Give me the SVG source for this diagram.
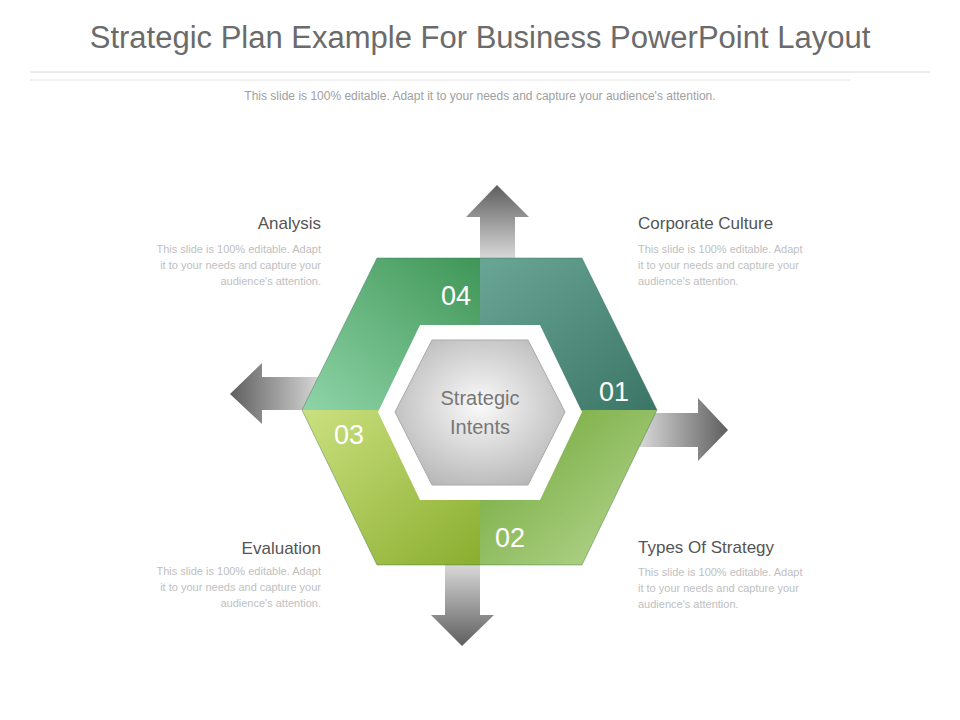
<svg xmlns="http://www.w3.org/2000/svg" width="960" height="720" viewBox="0 0 960 720">
<style>
text{font-family:"Liberation Sans",Arial,sans-serif}
.title{font-size:31px;fill:#6b6b6b}
.sub{font-size:12px;fill:#a0a0a0}
.h{font-size:17px;fill:#555}
.b{font-size:11px;fill:#c0c0c0}
.num{font-size:27px;fill:#fff}
.c{font-size:20px;fill:#777}
</style>
<defs>
<linearGradient id="gv" x1="0" y1="0" x2="0" y2="1"><stop offset="0" stop-color="#5e5e5e"/><stop offset="1" stop-color="#d8d8d8"/></linearGradient>
<linearGradient id="gvd" x1="0" y1="1" x2="0" y2="0"><stop offset="0" stop-color="#5e5e5e"/><stop offset="1" stop-color="#d8d8d8"/></linearGradient>
<linearGradient id="gh" x1="0" y1="0" x2="1" y2="0"><stop offset="0" stop-color="#5e5e5e"/><stop offset="1" stop-color="#d8d8d8"/></linearGradient>
<linearGradient id="ghr" x1="1" y1="0" x2="0" y2="0"><stop offset="0" stop-color="#5e5e5e"/><stop offset="1" stop-color="#d8d8d8"/></linearGradient>
<linearGradient id="q4" x1="1" y1="0" x2="0" y2="1"><stop offset="0" stop-color="#3f9657"/><stop offset="1" stop-color="#8fd4a8"/></linearGradient>
<linearGradient id="q1" x1="0" y1="0" x2="1" y2="1"><stop offset="0" stop-color="#6aa696"/><stop offset="1" stop-color="#3a7566"/></linearGradient>
<linearGradient id="q3" x1="0" y1="0" x2="1" y2="1"><stop offset="0" stop-color="#cbe080"/><stop offset="1" stop-color="#8aae2e"/></linearGradient>
<linearGradient id="q2" x1="0" y1="0" x2="1" y2="1"><stop offset="0" stop-color="#6ea534"/><stop offset="1" stop-color="#b9d995"/></linearGradient>
<radialGradient id="gc" cx="0.5" cy="0.45" r="0.6"><stop offset="0" stop-color="#fafafa"/><stop offset="1" stop-color="#b8b8b8"/></radialGradient>
</defs>
<text class="title" x="480" y="48" text-anchor="middle">Strategic Plan Example For Business PowerPoint Layout</text>
<line x1="30" y1="72" x2="930" y2="72" stroke="#d8d8d8"/>
<line x1="30" y1="80" x2="850" y2="80" stroke="#e4e4e4"/>
<text class="sub" x="480" y="100" text-anchor="middle">This slide is 100% editable. Adapt it to your needs and capture your audience's attention.</text>
<g id="connectors">
<path d="M480 258V217H466L497 185L529 217H515V258Z" fill="url(#gv)"/>
<path d="M320 377H262V363L230 394L262 424V410H320Z" fill="url(#gh)"/>
<path d="M640 413H698V398L728 430L698 461V447H640Z" fill="url(#ghr)"/>
<path d="M445 565V615H431L462 646L494 615H480V565Z" fill="url(#gvd)"/>
</g>
<g id="hexring">
<path d="M377 258H480V410H302Z" fill="url(#q4)"/>
<path d="M480 258H582L657 410H480Z" fill="url(#q1)"/>
<path d="M302 410H480V565H377Z" fill="url(#q3)"/>
<path d="M480 410H657L582 565H480Z" fill="url(#q2)"/>
<path d="M377 258H582L657 410L582 565H377L302 410Z" fill="none" stroke="#2f6a45" stroke-opacity="0.4"/>
<path d="M420 325H540L582 412L540 500H420L378 412Z" fill="#fff"/>
</g>
<g id="center">
<path d="M432 340H528L565 412L528 485H432L395 412Z" fill="url(#gc)" stroke="#aaa" stroke-width="1"/>
<text class="c" x="480" y="405" text-anchor="middle">Strategic</text>
<text class="c" x="480" y="434" text-anchor="middle">Intents</text>
</g>
<g id="n04"><text class="num" x="456" y="305" text-anchor="middle">04</text></g>
<g id="n01"><text class="num" x="614" y="401" text-anchor="middle">01</text></g>
<g id="n03"><text class="num" x="349" y="444" text-anchor="middle">03</text></g>
<g id="n02"><text class="num" x="510" y="547" text-anchor="middle">02</text></g>
<g id="analysis" text-anchor="end">
<text class="h" x="321" y="229">Analysis</text>
<text class="b" x="321" y="253">This slide is 100% editable. Adapt</text>
<text class="b" x="321" y="269">it to your needs and capture your</text>
<text class="b" x="321" y="285">audience's attention.</text>
</g>
<g id="culture">
<text class="h" x="638" y="229">Corporate Culture</text>
<text class="b" x="638" y="253">This slide is 100% editable. Adapt</text>
<text class="b" x="638" y="269">it to your needs and capture your</text>
<text class="b" x="638" y="285">audience's attention.</text>
</g>
<g id="evaluation" text-anchor="end">
<text class="h" x="321" y="554">Evaluation</text>
<text class="b" x="321" y="575">This slide is 100% editable. Adapt</text>
<text class="b" x="321" y="591">it to your needs and capture your</text>
<text class="b" x="321" y="607">audience's attention.</text>
</g>
<g id="types">
<text class="h" x="638" y="553">Types Of Strategy</text>
<text class="b" x="638" y="576">This slide is 100% editable. Adapt</text>
<text class="b" x="638" y="592">it to your needs and capture your</text>
<text class="b" x="638" y="608">audience's attention.</text>
</g>
</svg>
